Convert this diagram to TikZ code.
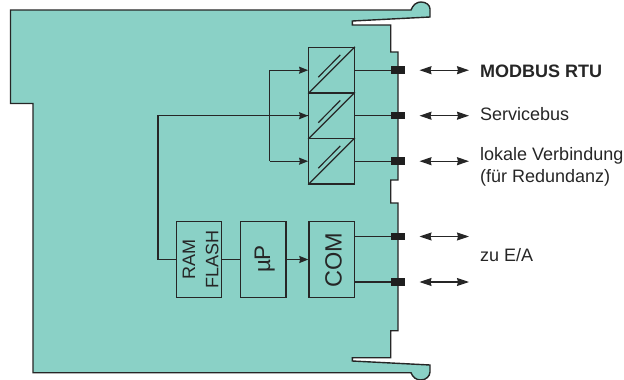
\documentclass[tikz,border=0pt]{standalone}
\usepackage{fontspec}
\setmainfont{Liberation Sans}
\usetikzlibrary{arrows.meta,calc}
\definecolor{boardfill}{HTML}{8AD1C6}
\definecolor{ink}{HTML}{262626}
\tikzset{x=1pt,y=-1pt,
  wire/.style={draw=ink,line width=1.15pt},
  fl/.style={wire,-{Stealth[length=9pt,width=7pt,inset=0.8pt]}},
  io/.style={draw=ink,line width=1.1pt,{Stealth[length=12pt,width=8pt,inset=1pt]}-{Stealth[length=12pt,width=8pt,inset=1pt]}},
  blk/.style={draw=ink,line width=1.3pt,minimum width=45.5pt,minimum height=76pt,inner sep=0pt},
  conv/.style={draw=ink,line width=1.3pt,minimum width=45.5pt,minimum height=45.5pt,inner sep=0pt},
  pin/.style={fill=black!88,minimum width=14pt,minimum height=7.5pt,inner sep=0pt},
  lbl/.style={anchor=base west,font=\fontsize{18}{22}\selectfont,text=ink,inner sep=0pt},
  btxt/.style={rotate=90,anchor=base,text=ink,inner sep=0pt}}
\begin{document}
\begin{tikzpicture}
\useasboundingbox (0,0) rectangle (624,380);
\path[fill=boardfill,draw=ink,line width=1.4pt,line join=miter]
 (10.5,10)--(411,10) .. controls (413,4.5) and (417,2) .. (421,2) .. controls (426,2) and (430,5) .. (430,9)
 --(430,17)--(352.3,21)--(352.3,25)--(390.7,25)--(390.7,52)--(398,52)--(398,180)--(390.7,180)--(390.7,203)--(398,203)
 --(398,330.7)--(390.7,330.7)--(390.7,357.7)--(352.3,357.7)--(352.3,361)--(430,365)--(430,372)
 .. controls (430,376) and (426,380) .. (421,380) .. controls (416,380) and (412.5,377) .. (411,372.7)
 --(33,372.7)--(33,103.5)--(10.5,103.5)--cycle;
% level converters
\node[conv] (c1) at (331.5,70.2) {};
\node[conv] (c2) at (331.5,115.7) {};
\node[conv] (c3) at (331.5,161.2) {};
\foreach \c in {c1,c2,c3}{
  \draw[wire] (\c.south west)--(\c.north east);
  \draw[wire] ($(\c.center)+(-13.2,7)$)--($(\c.center)+(8.8,-15.3)$);
}
% blocks
\node[blk] (ram) at (199,259.5) {};
\node[blk] (up) at (263.3,259.5) {};
\node[blk] (com) at (331.7,259.5) {};
\node[btxt,font=\fontsize{18}{20}\selectfont] (ramt) at (195,259.5) {RAM};
\node[btxt,font=\fontsize{18}{20}\selectfont] (flasht) at (218.3,259.5) {FLASH};
\node[btxt,font=\fontsize{22.5}{24}\selectfont] (upt) at (270,259) {µP};
\node[btxt,font=\fontsize{23.5}{26}\selectfont] (comt) at (341.5,260) {COM};
% pins
\node[pin] (p1) at (398,70.2) {};
\node[pin] (p2) at (398,115.7) {};
\node[pin] (p3) at (398,161.2) {};
\node[pin] (p4) at (398,236.5) {};
\node[pin] (p5) at (398,282) {};
% internal wiring
\coordinate (j1) at (269.5,70.2);
\coordinate (j3) at (269.5,161.2);
\coordinate (bend1) at (158,259.5);
\coordinate (bend2) at (158,115.7);
\draw[wire,line join=miter] (ram.west)--(bend1)--(bend2)--(c2.west);
\draw[fl] (bend2)--(c2.west);
\draw[fl] (j1)--(c1.west);
\draw[fl] (j3)--(c3.west);
\draw[wire] (j1)--(j3);
\draw[wire] (ram.east)--(up.west);
\draw[fl] (up.east)--(com.west);
\draw[wire] (c1.east)--(p1.west);
\draw[wire] (c2.east)--(p2.west);
\draw[wire] (c3.east)--(p3.west);
\draw[wire] (com.east |- p4)--(p4.west);
\draw[wire] (com.east |- p5)--(p5.west);
% external arrows
\foreach \p [count=\i] in {p1,p2,p3,p4,p5}{
  \coordinate (a\i) at ($(\p)+(21.5,0)$);
  \coordinate (b\i) at ($(\p)+(71,0)$);
  \draw[io] (a\i)--(b\i);
}
% labels
\node[lbl,font=\fontsize{18}{22}\selectfont\bfseries] (l1) at (480,77.7) {MODBUS RTU};
\node[lbl] (l2) at (480,120.7) {Servicebus};
\node[lbl] (l3) at (480,160) {lokale Verbindung};
\node[lbl] (l4) at (480,182) {(für Redundanz)};
\node[lbl] (l5) at (480,261.7) {zu E/A};
\end{tikzpicture}
\end{document}
